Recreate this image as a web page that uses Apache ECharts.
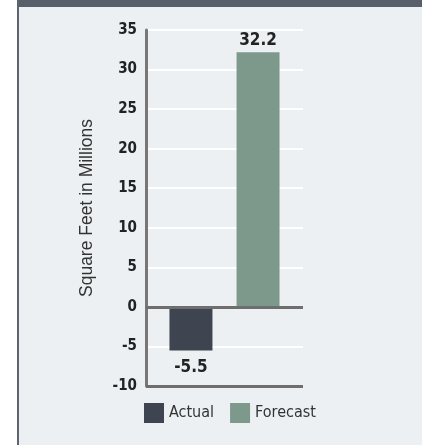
<!DOCTYPE html>
<html>
<head>
<meta charset="utf-8">
<style>
  html, body { margin: 0; padding: 0; background: #ffffff; }
  #chart { width: 422px; height: 445px; }
</style>
<script src="https://cdn.jsdelivr.net/npm/echarts@6/dist/echarts.min.js"></script>
</head>
<body>
<div id="chart"></div>
<script>
// data
var categories = ['']
var seriesNames = ['Actual', 'Forecast']
var actualValues = [-5.5]
var forecastValues = [32.2]
var yMin = -10
var yMax = 35
var yStep = 5

var narrow = '"Liberation Sans Narrow", "DejaVu Sans Condensed", sans-serif'

var chart = echarts.init(document.getElementById('chart'))
chart.setOption({
    backgroundColor: '#ffffff',
    animation: false,
    // panel background, left border and header band
    graphic: [
        { type: 'rect', z: -10, shape: { x: 19, y: 0, width: 403, height: 445 }, style: { fill: '#edf0f3' } },
        { type: 'rect', z: -9, shape: { x: 17, y: 0, width: 2, height: 445 }, style: { fill: '#5e6470' } },
        { type: 'rect', z: -9, shape: { x: 19, y: 0, width: 403, height: 7 }, style: { fill: '#585e6a' } }
    ],
    grid: {
        left: 146,
        right: 119,
        top: 30,
        bottom: 59
    },
    legend: {
        data: seriesNames,
        top: 403,
        left: 144,
        padding: 0,
        itemWidth: 20,
        itemHeight: 20,
        itemGap: 16,
        icon: 'rect',
        textStyle: { fontFamily: narrow, fontSize: 16, color: '#333333' }
    },
    xAxis: {
        type: 'category',
        data: categories,
        axisLine: { show: false },
        axisTick: { show: false },
        axisLabel: { show: false }
    },
    yAxis: {
        type: 'value',
        min: yMin,
        max: yMax,
        interval: yStep,
        name: 'Square Feet in Millions',
        nameLocation: 'middle',
        nameGap: 50,
        nameTextStyle: { fontFamily: '"Liberation Sans", Arial, sans-serif', fontSize: 17.5, color: '#333333' },
        axisLine: { show: true, lineStyle: { color: '#777777', width: 3 } },
        axisTick: { show: false },
        axisLabel: {
            fontFamily: narrow,
            fontWeight: 'bold',
            fontSize: 15,
            color: '#222222',
            margin: 9
        },
        splitLine: {
            lineStyle: { width: 2, color: '#ffffff' }
        }
    },
    series: [
        {
            name: 'Actual',
            type: 'bar',
            data: actualValues,
            barWidth: 43,
            barGap: '56%',
            itemStyle: { color: '#3e4450' },
            label: {
                show: true,
                position: 'bottom',
                distance: 9,
                fontFamily: narrow,
                fontWeight: 'bold',
                fontSize: 17,
                color: '#222222'
            },
            markLine: {
                silent: true,
                symbol: 'none',
                label: { show: false },
                lineStyle: { color: '#6e6e6e', width: 3, type: 'solid' },
                data: [{ yAxis: 0 }, { yAxis: yMin }]
            }
        },
        {
            name: 'Forecast',
            type: 'bar',
            data: forecastValues,
            barWidth: 43,
            itemStyle: { color: '#7d998c' },
            label: {
                show: true,
                position: 'top',
                distance: 3,
                fontFamily: narrow,
                fontWeight: 'bold',
                fontSize: 17,
                color: '#222222'
            }
        }
    ]
})
</script>
</body>
</html>
